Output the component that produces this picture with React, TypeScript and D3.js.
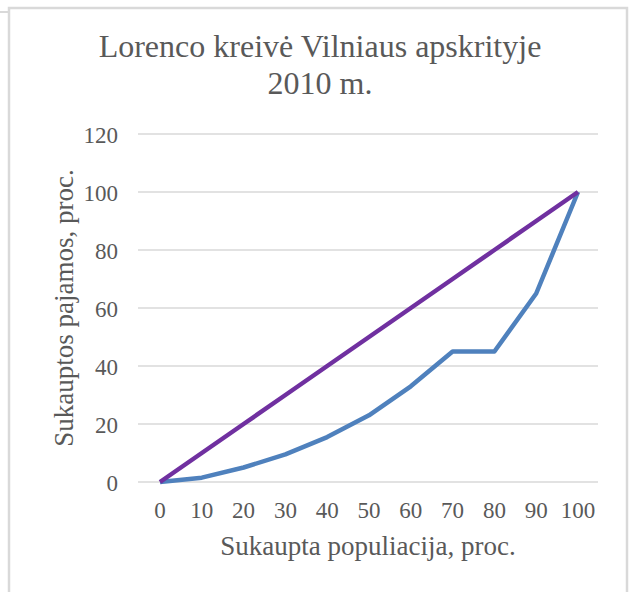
import React from "react";
import * as d3 from "d3";

const xValues = [0, 10, 20, 30, 40, 50, 60, 70, 80, 90, 100];
const lorenzValues = [0, 1.5, 5, 9.5, 15.5, 23, 33, 45, 45, 65, 100];
const equalityValues = [0, 10, 20, 30, 40, 50, 60, 70, 80, 90, 100];
const yTicks = [0, 20, 40, 60, 80, 100, 120];
const titleLines = ["Lorenco kreivė Vilniaus apskrityje", "2010 m."];
const xTitle = "Sukaupta populiacija, proc.";
const yTitle = "Sukauptos pajamos, proc.";

export default function App() {
  const W = 631, H = 592;
  const x = d3.scaleLinear().domain([0, 100]).range([160, 578]);
  const y = d3.scaleLinear().domain([0, 120]).range([482, 134]);
  const line = d3.line<number>().x((_, i) => x(xValues[i])).y((d) => y(d));
  const font = "'Liberation Serif', 'Times New Roman', serif";
  const txt = "#595959";
  return (
    <svg width={W} height={H} style={{ position: "absolute", left: 0, top: 0, background: "#fff" }}>
      <rect x={0} y={0} width={W} height={H} fill="#fff" />
      <line x1={0} x2={9} y1={12} y2={12} stroke="#d9d9d9" strokeWidth={2} />
      <rect x={9} y={8} width={618} height={620} fill="#fff" stroke="#d9d9d9" strokeWidth={2.5} />
      <text x={320} y={57} textAnchor="middle" style={{ fontFamily: font }} fontSize={32} fill={txt}>{titleLines[0]}</text>
      <text x={320} y={94} textAnchor="middle" style={{ fontFamily: font }} fontSize={32} fill={txt}>{titleLines[1]}</text>
      {yTicks.map((t) => (
        <g key={t}>
          <line x1={138} x2={598} y1={y(t)} y2={y(t)} stroke="#d9d9d9" strokeWidth={1.5} />
          <text x={118} y={y(t) + 8.5} textAnchor="end" style={{ fontFamily: font }} fontSize={23} fill={txt}>{t}</text>
        </g>
      ))}
      {xValues.map((t) => (
        <text key={t} x={x(t)} y={518} textAnchor="middle" style={{ fontFamily: font }} fontSize={23} fill={txt}>{t}</text>
      ))}
      <text x={368} y={555} textAnchor="middle" style={{ fontFamily: font }} fontSize={27} fill={txt}>{xTitle}</text>
      <text transform={`translate(73,308) rotate(-90)`} textAnchor="middle" style={{ fontFamily: font }} fontSize={27} fill={txt}>{yTitle}</text>
      <path d={line(lorenzValues) || ""} fill="none" stroke="#4f81bd" strokeWidth={4.5} strokeLinejoin="round" />
      <path d={line(equalityValues) || ""} fill="none" stroke="#7030a0" strokeWidth={4.5} strokeLinejoin="round" />
    </svg>
  );
}
